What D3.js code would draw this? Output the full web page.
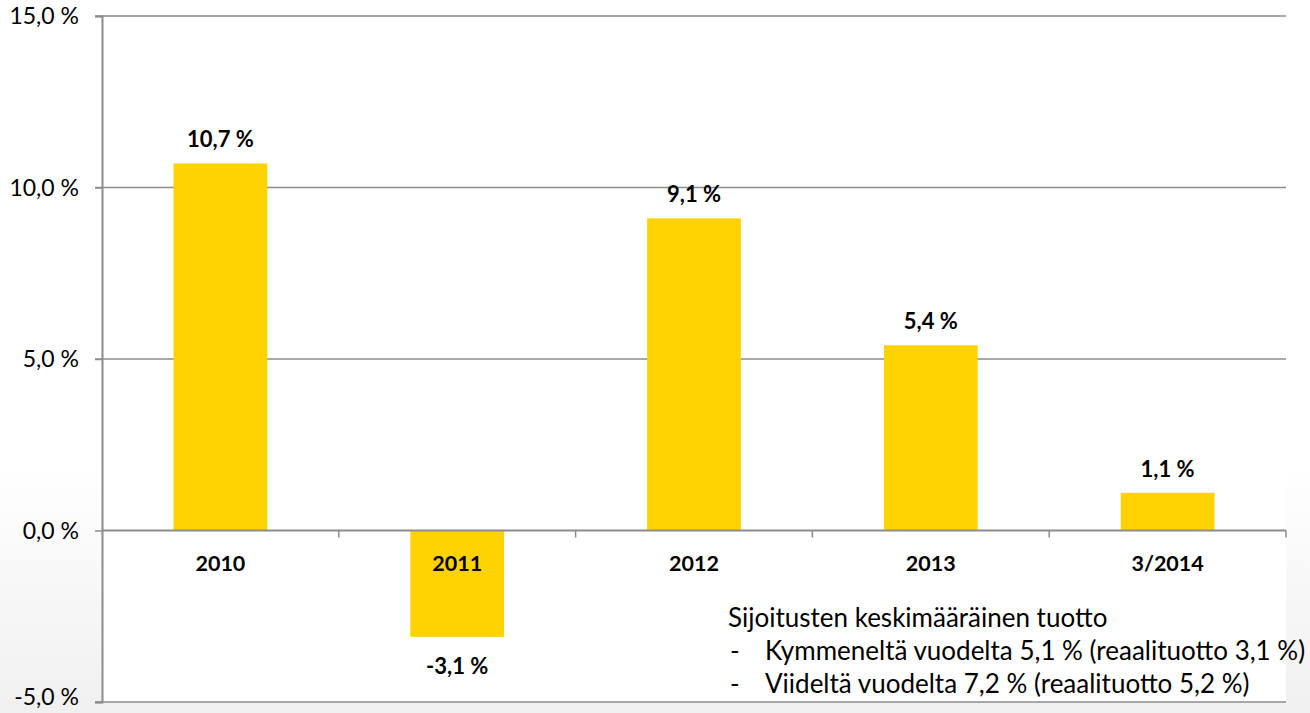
<!DOCTYPE html>
<html><head><meta charset="utf-8">
<script src="https://cdn.jsdelivr.net/npm/d3@7"></script>
<style>
html,body{margin:0;padding:0;background:#fff;}
svg{display:block;font-family:Lato,"Open Sans",sans-serif;}
</style></head>
<body>
<svg id="chart" width="1310" height="713"></svg>
<script>
const categories = ["2010","2011","2012","2013","3/2014"];
const values = [10.7, -3.1, 9.1, 5.4, 1.1];
const yTicks = [-5, 0, 5, 10, 15];
const noteTitle = "Sijoitusten keskimääräinen tuotto";
const noteLines = ["Kymmeneltä vuodelta 5,1 % (reaalituotto 3,1 %)", "Viideltä vuodelta 7,2 % (reaalituotto 5,2 %)"];

const W = 1310, H = 713;
const m = {left:102, right:24, top:16, bottom:11};
const svg = d3.select("#chart");

const defs = svg.append("defs");
const grad = defs.append("linearGradient").attr("id","bg").attr("x1",0).attr("y1",0).attr("x2",0).attr("y2",1);
grad.append("stop").attr("offset","0%").attr("stop-color","#ffffff");
grad.append("stop").attr("offset","65%").attr("stop-color","#ffffff");
grad.append("stop").attr("offset","100%").attr("stop-color","#f0f0f0");
svg.append("rect").attr("width",W).attr("height",H).attr("fill","url(#bg)");

const x = d3.scaleBand().domain(categories).range([m.left, W - m.right]).padding(0);
const y = d3.scaleLinear().domain([-5, 15]).range([H - m.bottom, m.top]);

svg.append("rect").attr("x",m.left).attr("y",m.top).attr("width",W-m.right-m.left).attr("height",H-m.bottom-m.top).attr("fill","#fff");

const fmt = v => d3.format(".1f")(v).replace(".", ",").replace("−","-") + " %";

// gridlines
svg.append("g").selectAll("line").data(yTicks.filter(t => t !== 0)).join("line")
  .attr("x1", m.left - 7).attr("x2", W - m.right)
  .attr("y1", d => y(d)).attr("y2", d => y(d))
  .attr("stroke", "#8c8c8c").attr("stroke-width", 1.5);

// y axis
const yAxis = d3.axisLeft(y).tickValues(yTicks).tickSize(7).tickPadding(16).tickFormat(fmt);
const gy = svg.append("g").attr("transform", `translate(${m.left},0)`).call(yAxis);
gy.select(".domain").attr("stroke","#8c8c8c").attr("stroke-width",2);
gy.selectAll(".tick line").attr("stroke","#8c8c8c").attr("stroke-width",1.5);
gy.selectAll(".tick text").attr("font-size",23).attr("fill","#000").attr("font-family","Lato")
  .attr("dy", d => d === -5 ? "0.12em" : "0.34em");

// bars
svg.append("g").selectAll("rect").data(values).join("rect")
  .attr("x", (d,i) => x(categories[i]) + x.bandwidth()*0.302)
  .attr("width", x.bandwidth()*0.396)
  .attr("y", d => y(Math.max(0,d)))
  .attr("height", d => Math.abs(y(d) - y(0)))
  .attr("fill", "#FFD200");

// x axis line at zero
svg.append("line").attr("x1", m.left).attr("x2", W - m.right)
  .attr("y1", y(0)).attr("y2", y(0)).attr("stroke","#8c8c8c").attr("stroke-width",2);
const bounds = categories.map(c => x(c)).concat([x(categories[categories.length-1]) + x.bandwidth()]).slice(1);
svg.append("g").selectAll("line").data(bounds).join("line")
  .attr("x1", d => d).attr("x2", d => d)
  .attr("y1", y(0)).attr("y2", y(0) + 7)
  .attr("stroke","#8c8c8c").attr("stroke-width",1.5);

// category labels
svg.append("g").selectAll("text").data(categories).join("text")
  .attr("x", d => x(d) + x.bandwidth()/2).attr("y", y(0) + 40)
  .attr("text-anchor","middle").attr("font-size",21.5).attr("font-weight","bold").attr("fill","#000")
  .text(d => d);

// value labels
svg.append("g").selectAll("text").data(values).join("text")
  .attr("x", (d,i) => x(categories[i]) + x.bandwidth()/2)
  .attr("y", d => d >= 0 ? y(d) - 16 : y(d) + 37)
  .attr("text-anchor","middle").attr("font-size",22).attr("font-weight","bold").attr("fill","#000")
  .text(d => fmt(d));

// note
const note = svg.append("g").attr("font-size",26).attr("fill","#000");
note.append("text").attr("x",728).attr("y",627).text(noteTitle);
noteLines.forEach((t,i) => {
  note.append("text").attr("x",730).attr("y",660 + i*33).text("-");
  note.append("text").attr("x",765).attr("y",660 + i*33).text(t);
});
</script>
</body></html>
